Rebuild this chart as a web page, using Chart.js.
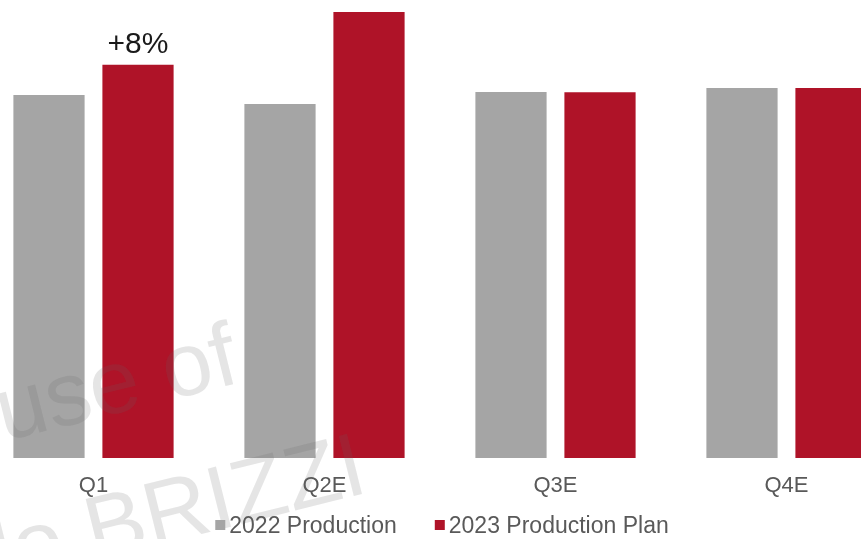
<!DOCTYPE html>
<html>
<head>
<meta charset="utf-8">
<script src="https://cdn.jsdelivr.net/npm/chart.js@4.4.0/dist/chart.umd.min.js"></script>
<style>
  html, body { margin: 0; padding: 0; background: #fff; overflow: hidden; }
  body { width: 861px; height: 539px; position: relative; }
  /* the source picture is cropped on both sides, so the canvas runs past the window */
  #wrap { position: absolute; left: -22px; top: 0; width: 924px; height: 539px; }
</style>
</head>
<body>
<div id="wrap"><canvas id="chart"></canvas></div>
<script>
'use strict';

// ─── Data ────────────────────────────────────────────────────────────────────
const quarters       = ['Q1', 'Q2E', 'Q3E', 'Q4E'];
const production2022 = [99.1, 96.6, 99.9, 101.0];
const plan2023       = [107.3, 121.7, 99.8, 101.0];
const seriesNames    = ['2022 Production', '2023 Production Plan'];

const GREY = '#a5a5a5';
const RED  = '#af1328';
const FONT = "'Liberation Sans', Arial, sans-serif";

// ─── Plugins ─────────────────────────────────────────────────────────────────

// "+8%" callout above the first 2023 bar
const growthLabel = {
  id: 'growthLabel',
  afterDatasetsDraw(chart) {
    const bar = chart.getDatasetMeta(1).data[0];
    const pct = Math.round((plan2023[0] / production2022[0] - 1) * 100);
    const ctx = chart.ctx;
    ctx.save();
    ctx.font = `30px ${FONT}`;
    ctx.fillStyle = '#1a1a1a';
    ctx.textAlign = 'center';
    ctx.textBaseline = 'alphabetic';
    ctx.fillText('+' + pct + '%', bar.x, bar.y - 12);
    ctx.restore();
  },
};

// faint diagonal watermark laid over the bars
const watermark = {
  id: 'watermark',
  afterDatasetsDraw(chart) {
    const ctx = chart.ctx;
    const lines = [
      { text: 'For the exclusive use of', x: 264, y: 382 },
      { text: 'Paolo BRIZZI',             x: 392, y: 492 },
    ];
    ctx.save();
    ctx.font = `90px ${FONT}`;
    ctx.fillStyle = 'rgba(100, 100, 100, 0.17)';
    ctx.textAlign = 'right';
    for (const l of lines) {
      ctx.save();
      ctx.translate(l.x, l.y);
      ctx.rotate(-14 * Math.PI / 180);
      ctx.fillText(l.text, 0, 0);
      ctx.restore();
    }
    ctx.restore();
  },
};

// legend with small square keys, drawn under the axis labels
const squareLegend = {
  id: 'squareLegend',
  afterDraw(chart) {
    const ctx = chart.ctx;
    const box = 10, gapText = 4, gapItem = 38;
    ctx.save();
    ctx.font = `23px ${FONT}`;
    const items = chart.data.datasets.map(ds => ({
      label: ds.label, color: ds.backgroundColor, w: ctx.measureText(ds.label).width,
    }));
    const total = items.reduce((s, it) => s + box + gapText + it.w, 0) + gapItem * (items.length - 1);
    let x = (chart.chartArea.left + chart.chartArea.right) / 2 + 2 - total / 2;
    const baseline = 533;
    ctx.textBaseline = 'alphabetic';
    ctx.textAlign = 'left';
    for (const it of items) {
      ctx.fillStyle = it.color;
      ctx.fillRect(x, baseline - 13, box, box);
      ctx.fillStyle = '#595959';
      ctx.fillText(it.label, x + box + gapText, baseline);
      x += box + gapText + it.w + gapItem;
    }
    ctx.restore();
  },
};

// ─── Chart ───────────────────────────────────────────────────────────────────
new Chart(document.getElementById('chart'), {
  type: 'bar',
  data: {
    labels: quarters,
    datasets: [
      { label: seriesNames[0], data: production2022, backgroundColor: GREY },
      { label: seriesNames[1], data: plan2023,       backgroundColor: RED  },
    ],
  },
  options: {
    responsive: true,
    maintainAspectRatio: false,
    animation: false,
    datasets: { bar: { categoryPercentage: 0.7706, barPercentage: 0.8 } },
    layout: { padding: { top: 0, left: 0, right: 0, bottom: 32.6 } },
    plugins: {
      legend:  { display: false },
      tooltip: { enabled: false },
    },
    scales: {
      x: {
        grid:   { display: false },
        border: { display: false },
        ticks:  { color: '#595959', padding: 7, font: { family: FONT, size: 22 } },
      },
      y: { display: false, min: 0, max: 125 },
    },
  },
  plugins: [watermark, growthLabel, squareLegend],
});
</script>
</body>
</html>
